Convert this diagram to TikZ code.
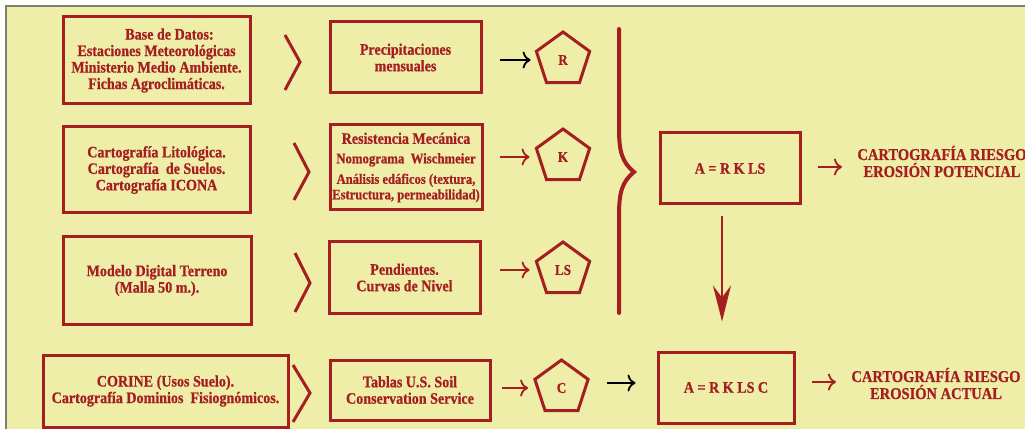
\documentclass[tikz,border=0pt]{standalone}
\usepackage{fontspec}
\setmainfont{Liberation Serif}[FakeStretch=0.88, BoldFeatures={FakeBold=0.7}]
\usetikzlibrary{arrows.meta,shapes.geometric}
\definecolor{bg}{RGB}{238,238,168}
\definecolor{dred}{RGB}{165,30,34}
\definecolor{gline}{RGB}{128,128,112}
\begin{document}
\begin{tikzpicture}[x=1pt,y=-1pt,
  every node/.style={font=\bfseries\fontsize{16}{16.5}\selectfont, text=dred},
  box/.style={draw=dred, line width=3pt, align=center, inner sep=0pt},
  pent/.style={draw=dred, line width=3pt, regular polygon, regular polygon sides=5,
    minimum size=56pt, inner sep=0pt, font=\bfseries\fontsize{15}{15}\selectfont},
  chev/.style={draw=dred, line width=3pt},
  harr/.style={-{To[length=8pt,width=17pt]}, line width=1.8pt, draw=dred},
  karr/.style={harr, draw=black},
  darr/.style={-{Stealth[length=36pt,width=18pt,inset=12pt]}, line width=2pt, draw=dred},
  res/.style={align=center, font=\bfseries\fontsize{16.5}{17}\selectfont}
]
% background
\fill[white] (0,0) rectangle (1033,429);
\fill[bg] (6,6) rectangle (1025,429);
\draw[gline, line width=1.5pt] (6,429) -- (6,6) -- (1025,6);

% row 1
\node[box, minimum width=187pt, minimum height=87pt] (b1) at (156.5,60.5)
  {\hspace*{26pt}Base de Datos:\\ Estaciones Meteorológicas\\ Ministerio Medio Ambiente.\\ Fichas Agroclimáticas.};
\node[box, minimum width=151pt, minimum height=71pt] (m1) at (405.5,57.5)
  {Precipitaciones\\ mensuales};
\node[pent] (pR) at (563,60) {R};

% row 2
\node[box, minimum width=187pt, minimum height=86pt] (b2) at (156.5,170)
  {Cartografía Litológica.\\ Cartografía \ de Suelos.\\ Cartografía ICONA};
\node[box, minimum width=152pt, minimum height=85pt] (m2) at (406,167.5)
  {Resistencia Mecánica\\[3pt]
   {\fontsize{14.5}{15}\selectfont Nomograma \ Wischmeier}\\[4pt]
   {\fontsize{14.3}{15}\selectfont Análisis edáficos (textura,}\\[-1pt]
   {\fontsize{14.3}{15}\selectfont Estructura, permeabilidad)}};
\node[pent] (pK) at (563,157) {K};

% row 3
\node[box, minimum width=188pt, minimum height=87pt] (b3) at (157,280.5)
  {Modelo Digital Terreno\\ (Malla 50 m.).};
\node[box, minimum width=151pt, minimum height=71pt] (m3) at (404.5,277.5)
  {Pendientes.\\ Curvas de Nivel};
\node[pent] (pLS) at (563,270) {LS};

% row 4
\node[box, minimum width=245pt, minimum height=72pt] (b4) at (165.5,391)
  {CORINE (Usos Suelo).\\ Cartografía Dominios \ Fisiognómicos.};
\node[box, minimum width=160pt, minimum height=60pt] (m4) at (410,390)
  {Tablas U.S. Soil\\ Conservation Service};
\node[pent] (pC) at (561.5,388) {C};

% results
\node[box, minimum width=140pt, minimum height=71pt] (bA) at (730,168.5) {A = R K LS};
\node[box, minimum width=136pt, minimum height=71pt] (bAC) at (726,387.5) {A = R K LS C};
\node[res] (t1) at (942,161.5) {CARTOGRAFÍA RIESGO\\ EROSIÓN POTENCIAL};
\node[res] (t2) at (936,383.5) {CARTOGRAFÍA RIESGO\\ EROSIÓN ACTUAL};

% chevrons
\draw[chev] (285,35) -- (300,62) -- (285,90);
\draw[chev] (294,143) -- (309,172) -- (294,200);
\draw[chev] (295,253) -- (310,283) -- (295,312);
\draw[chev] (293,365) -- (310,393) -- (293,422);

% arrows to pentagons
\draw[karr, shorten <=17pt, shorten >=7pt] (pR.west -| m1.east) -- (pR.west);
\draw[harr, shorten <=16pt, shorten >=8pt] (pK.west -| m2.east) -- (pK.west);
\draw[harr, shorten <=18pt, shorten >=8pt] (pLS.west -| m3.east) -- (pLS.west);
\draw[harr, shorten <=10pt, shorten >=8pt] (pC.west -| m4.east) -- (pC.west);

% brace
\draw[dred, line width=4pt, line cap=round]
  (619,29) -- (619,128) .. controls (619,152) and (622,162) .. (634,172)
  .. controls (622,182) and (619,192) .. (619,216) -- (619,313);

% pentagon C to A = R K LS C
\draw[karr, shorten <=20pt, shorten >=21pt] (pC.east |- 0,383) -- (bAC.west |- 0,383);

% down arrow
\draw[darr, shorten <=11pt, shorten >=29pt] ([xshift=-8pt]bA.south) -- ([xshift=-8pt]bA.south |- bAC.north);

% result arrows
\draw[harr, shorten <=16pt, shorten >=12pt] (bA.east |- 0,167) -- (t1.west |- 0,167);
\draw[harr, shorten <=16pt, shorten >=12pt] (bAC.east |- 0,382) -- (t2.west |- 0,382);

% right white margin
\fill[white] (1025,0) rectangle (1033,429);
\end{tikzpicture}
\end{document}
